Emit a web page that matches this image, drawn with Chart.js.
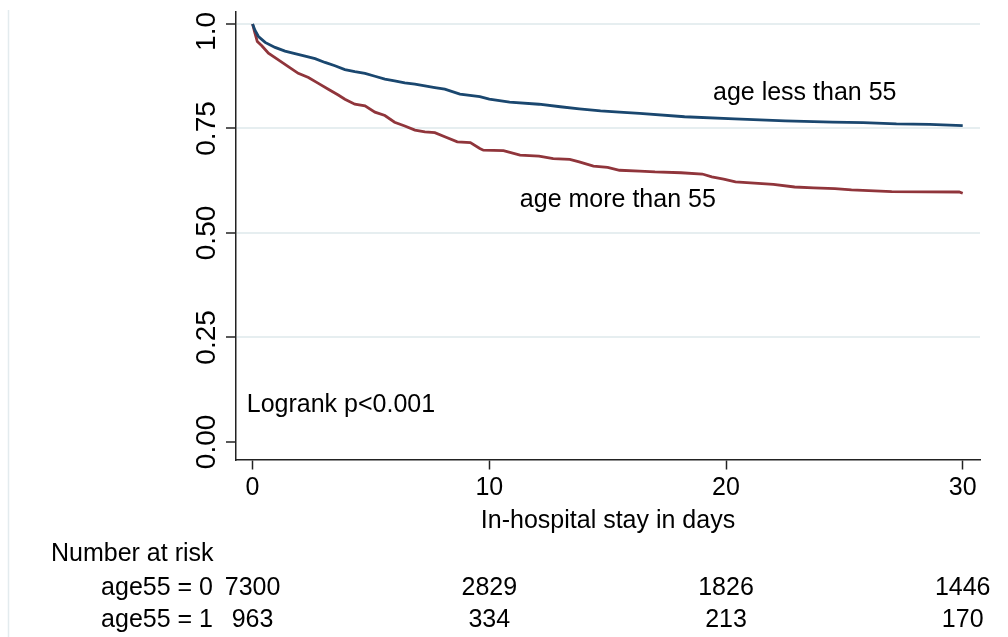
<!DOCTYPE html>
<html>
<head>
<meta charset="utf-8">
<title>Kaplan-Meier survival by age group</title>
<script src="https://cdn.jsdelivr.net/npm/chart.js@4.4.1/dist/chart.umd.min.js"></script>
<style>
  html, body { margin: 0; padding: 0; background: #fff; }
  #wrap { width: 1008px; height: 637px; }
  canvas { display: block; }
</style>
</head>
<body>
<div id="wrap"><canvas id="km" width="1008" height="637"></canvas></div>
<script>
// Kaplan-Meier survival estimates, time in days of hospital stay
const daysUnder55 = [0, 0.1, 0.25, 0.53, 0.95, 1.37, 1.79, 2.22, 2.64, 3.06, 3.48, 3.9, 4.32, 4.75,
  5.17, 5.59, 6.0, 6.43, 6.86, 7.28, 7.7, 8.12, 8.76, 9.6, 10.0, 10.86, 12.1, 13.0, 13.8, 14.7,
  15.5, 16.35, 18.25, 20.36, 22.5, 24.5, 25.8, 27.2, 28.6, 30.0];
const survUnder55 = [1.0, 0.985, 0.970, 0.956, 0.944, 0.935, 0.929, 0.923, 0.917, 0.908, 0.900, 0.891, 0.886, 0.882,
  0.875, 0.868, 0.864, 0.859, 0.856, 0.852, 0.848, 0.844, 0.832, 0.826, 0.820, 0.813, 0.808, 0.802, 0.797, 0.792,
  0.789, 0.786, 0.778, 0.773, 0.768, 0.765, 0.764, 0.761, 0.760, 0.757];

const daysOver55 = [0, 0.1, 0.2, 0.39, 0.67, 1.09, 1.51, 1.93, 2.36, 2.78, 3.2, 3.62, 3.9, 4.32, 4.75,
  5.17, 5.59, 6.0, 6.43, 6.86, 7.28, 7.7, 8.12, 8.65, 9.2, 9.6, 9.75, 10.6, 11.3, 12.1, 12.7, 13.4,
  13.8, 14.4, 15.0, 15.5, 16.35, 17.0, 18.1, 19.0, 19.4, 19.9, 20.4, 21.2, 22.0, 22.9, 23.7, 24.6,
  25.3, 27.0, 29.85, 30.0];
const survOver55 = [1.0, 0.978, 0.958, 0.948, 0.930, 0.914, 0.898, 0.882, 0.872, 0.858, 0.844, 0.830, 0.820, 0.808, 0.804,
  0.789, 0.781, 0.765, 0.756, 0.746, 0.742, 0.740, 0.730, 0.718, 0.716, 0.702, 0.698, 0.697, 0.686, 0.684, 0.678, 0.676,
  0.670, 0.660, 0.657, 0.650, 0.648, 0.646, 0.644, 0.641, 0.634, 0.629, 0.622, 0.619, 0.616, 0.610, 0.608, 0.606,
  0.603, 0.599, 0.598, 0.595];

const seriesNames = ['age less than 55', 'age more than 55'];

// axis ticks
const xTicks = [0, 10, 20, 30];
const yTicks = [0, 0.25, 0.5, 0.75, 1];
const yTickLabels = ['0.00', '0.25', '0.50', '0.75', '1.0'];

// number-at-risk table
const riskTimes = [0, 10, 20, 30];
const riskGroups = ['age55 = 0', 'age55 = 1'];
const riskAge0 = [7300, 2829, 1826, 1446];
const riskAge1 = [963, 334, 213, 170];

const FONT_FAMILY = '"Liberation Sans", Arial, Helvetica, sans-serif';
const FONT = '25px ' + FONT_FAMILY;
const Y_LABEL_FONT = '28px ' + FONT_FAMILY;
const BLUE = '#1a476f';
const RED = '#90353b';
const GRID = '#e6eef0';
const AXIS = '#222222';

// text placed on the plot, anchored in data units (left edge, baseline)
const notes = [
  { text: seriesNames[0], x: 19.45, y: 0.818 },
  { text: seriesNames[1], x: 11.29, y: 0.5627 },
  { text: 'Logrank p<0.001', x: -0.245, y: 0.072 }
];

const toPoints = (xs, ys) => xs.map((d, i) => ({ x: d, y: ys[i] }));

const kmDecor = {
  id: 'kmDecor',
  beforeDraw(chart) {
    const ctx = chart.ctx;
    ctx.save();
    ctx.fillStyle = '#fff';
    ctx.fillRect(0, 0, chart.width, chart.height);
    // thin outer frame line on the left
    ctx.strokeStyle = '#e3ebee';
    ctx.lineWidth = 1.5;
    ctx.beginPath();
    ctx.moveTo(8.5, 10);
    ctx.lineTo(8.5, chart.height);
    ctx.stroke();
    ctx.restore();
  },
  afterDraw(chart) {
    const { ctx, chartArea } = chart;
    const x = chart.scales.x, y = chart.scales.y;
    ctx.save();
    ctx.fillStyle = '#000';

    // vertical y tick labels, kept inside the plot's vertical extent
    ctx.font = Y_LABEL_FONT;
    const labelX = chartArea.left - 21;
    y.ticks.forEach(t => {
      const half = ctx.measureText(t.label).width / 2;
      const cy = Math.max(y.getPixelForValue(t.value), chartArea.top + half);
      ctx.save();
      ctx.translate(labelX, cy);
      ctx.rotate(-Math.PI / 2);
      ctx.textAlign = 'center';
      ctx.textBaseline = 'alphabetic';
      ctx.fillText(t.label, 0, 0);
      ctx.restore();
    });

    ctx.font = FONT;
    ctx.textBaseline = 'alphabetic';

    // x axis title
    ctx.textAlign = 'center';
    ctx.fillText('In-hospital stay in days', (chartArea.left + chartArea.right) / 2, 528);

    // curve labels and test result
    ctx.textAlign = 'left';
    notes.forEach(n => ctx.fillText(n.text, x.getPixelForValue(n.x), y.getPixelForValue(n.y)));

    // number at risk
    ctx.textAlign = 'left';
    ctx.fillText('Number at risk', 51, 561);
    [riskAge0, riskAge1].forEach((row, i) => {
      const by = 595 + i * 31.5;
      ctx.textAlign = 'right';
      ctx.fillText(riskGroups[i], 213, by);
      ctx.textAlign = 'center';
      row.forEach((n, j) => ctx.fillText(String(n), x.getPixelForValue(riskTimes[j]), by));
    });
    ctx.restore();
  }
};

new Chart(document.getElementById('km'), {
  type: 'line',
  data: {
    datasets: [
      { label: seriesNames[0], data: toPoints(daysUnder55, survUnder55), borderColor: BLUE,
        borderWidth: 2.8, pointRadius: 0, tension: 0, fill: false },
      { label: seriesNames[1], data: toPoints(daysOver55, survOver55), borderColor: RED,
        borderWidth: 2.8, pointRadius: 0, tension: 0, fill: false }
    ]
  },
  options: {
    responsive: false,
    devicePixelRatio: 1,
    animation: false,
    layout: { padding: { top: 12, right: 28, left: 0, bottom: 0 } },
    plugins: { legend: { display: false }, tooltip: { enabled: false } },
    scales: {
      x: {
        type: 'linear',
        min: -0.70,
        max: 30.73,
        afterBuildTicks: s => { s.ticks = xTicks.map(v => ({ value: v })); },
        afterFit: s => { s.height = 177.5; },
        border: { display: true, color: AXIS, width: 1.5 },
        grid: { display: true, drawOnChartArea: false, tickLength: 10, tickColor: AXIS, tickWidth: 1.5 },
        ticks: { color: '#000', padding: 4, maxRotation: 0, font: { family: FONT_FAMILY, size: 25 } }
      },
      y: {
        type: 'linear',
        min: -0.0421,
        max: 1.0287,
        afterBuildTicks: s => { s.ticks = yTicks.map(v => ({ value: v })); },
        afterFit: s => { s.width = 236; },
        border: { display: true, color: AXIS, width: 1.5 },
        grid: {
          display: true,
          color: c => (c.tick && c.tick.value === 0) ? 'rgba(0,0,0,0)' : GRID,
          lineWidth: 2,
          tickLength: 10,
          tickColor: AXIS,
          tickWidth: 1.5
        },
        ticks: {
          display: false,
          callback: (v, i) => yTickLabels[i]
        }
      }
    }
  },
  plugins: [kmDecor]
});
</script>
</body>
</html>
